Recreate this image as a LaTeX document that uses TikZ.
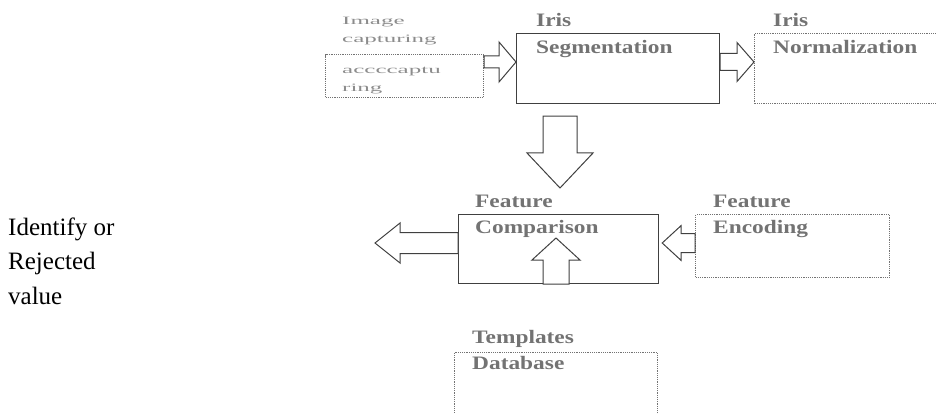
\documentclass[tikz,border=0pt]{standalone}
\usepackage{fontspec}
\setmainfont{Liberation Serif}
\usetikzlibrary{calc}

% stacked lines, baseline on the first one
\newcommand{\lines}[1]{\begin{tabular}[t]{@{}l@{}}#1\end{tabular}}
% squashed and widened text, as in the scanned figure
\newcommand{\squash}[1]{\scalebox{1}[0.45]{\lines{#1}}}
\newcommand{\wide}[1]{\scalebox{1.23}[1]{\lines{#1}}}

% block arrow: from, to, shaft half width, head half width, head length
\newcommand{\blockarrow}[5]{%
  \draw[arrowDecorate] let \p1=(#1), \p2=(#2),
    \n1={atan2(\y2-\y1,\x2-\x1)}, \n2={veclen(\x2-\x1,\y2-\y1)} in
    [shift={(\p1)}, rotate=\n1]
    (0pt,#3pt) -- ({\n2-#5pt},#3pt) -- ({\n2-#5pt},#4pt) -- ({\n2+0pt},0pt)
    -- ({\n2-#5pt},-#4pt) -- ({\n2-#5pt},-#3pt) -- (0pt,-#3pt) -- cycle;}

\begin{document}
\begin{tikzpicture}
[x=1pt, y=-1pt,
 boxDecorate/.style={draw=black!75, line width=1.2pt, anchor=north west, inner sep=0pt},
 dotDecorate/.style={boxDecorate, draw=black!55, densely dotted},
 arrowDecorate/.style={draw=black!75, line width=1pt, fill=white, line join=miter},
 textDecorate/.style={anchor=base west, inner sep=0pt, text=black!55,
   font=\bfseries\fontsize{19}{26.5}\selectfont},
 smallDecorate/.style={anchor=base west, inner sep=0pt, text=black!45,
   font=\fontsize{25}{40}\selectfont}]

\useasboundingbox (0,0) rectangle (936,414);

% boxes
\node (cap) at (325,54) [dotDecorate, minimum width=158pt, minimum height=43pt] {};
\node (seg) at (516,33) [boxDecorate, minimum width=203pt, minimum height=70pt] {};
\node (norm) at (754,33) [dotDecorate, minimum width=200pt, minimum height=70pt] {};
\node (cmp) at (458,214) [boxDecorate, minimum width=200pt, minimum height=69pt] {};
\node (enc) at (695,214) [dotDecorate, minimum width=194pt, minimum height=63pt] {};
\node (db) at (454,352) [dotDecorate, minimum width=203pt, minimum height=80pt] {};

% texts
\node (capT) at (342,25) [smallDecorate] {\squash{Image\\capturing}};
\node (capIn) at (342,74) [smallDecorate] {\squash{accccaptu\\ring}};
\node (segT) at (536,27) [textDecorate] {\wide{Iris\\Segmentation}};
\node (normT) at (773,27) [textDecorate] {\wide{Iris\\Normalization}};
\node (cmpT) at (475,207) [textDecorate] {\wide{Feature\\Comparison}};
\node (encT) at (713,207) [textDecorate] {\wide{Feature\\Encoding}};
\node (dbT) at (472,343) [textDecorate] {\wide{Templates\\Database}};
\node (ident) at (8,235) [anchor=base west, inner sep=0pt,
  font=\fontsize{25}{34.5}\selectfont] {\lines{Identify or\\Rejected\\value}};

\coordinate (out) at (375,243);

% arrows
\blockarrow{$(cap.north east)+(0,8)$}{$(seg.north west)+(0,29)$}{6}{20}{17}
\blockarrow{$(seg.north east)+(0,29)$}{$(norm.north west)+(0,29)$}{8.5}{19.5}{17}
\blockarrow{$(seg.south west)+(44,12)$}{$(cmp.north west)+(102,-26)$}{17}{33}{35}
\blockarrow{$(cmp.north west)+(0,29)$}{out}{10.5}{20}{25}
\blockarrow{$(enc.north west)+(0,29)$}{$(cmp.north east)+(3,29)$}{9.5}{17.5}{19}
\blockarrow{$(cmp.south west)+(98,0)$}{$(cmp.north west)+(98,24)$}{13}{24}{22}

\end{tikzpicture}
\end{document}
